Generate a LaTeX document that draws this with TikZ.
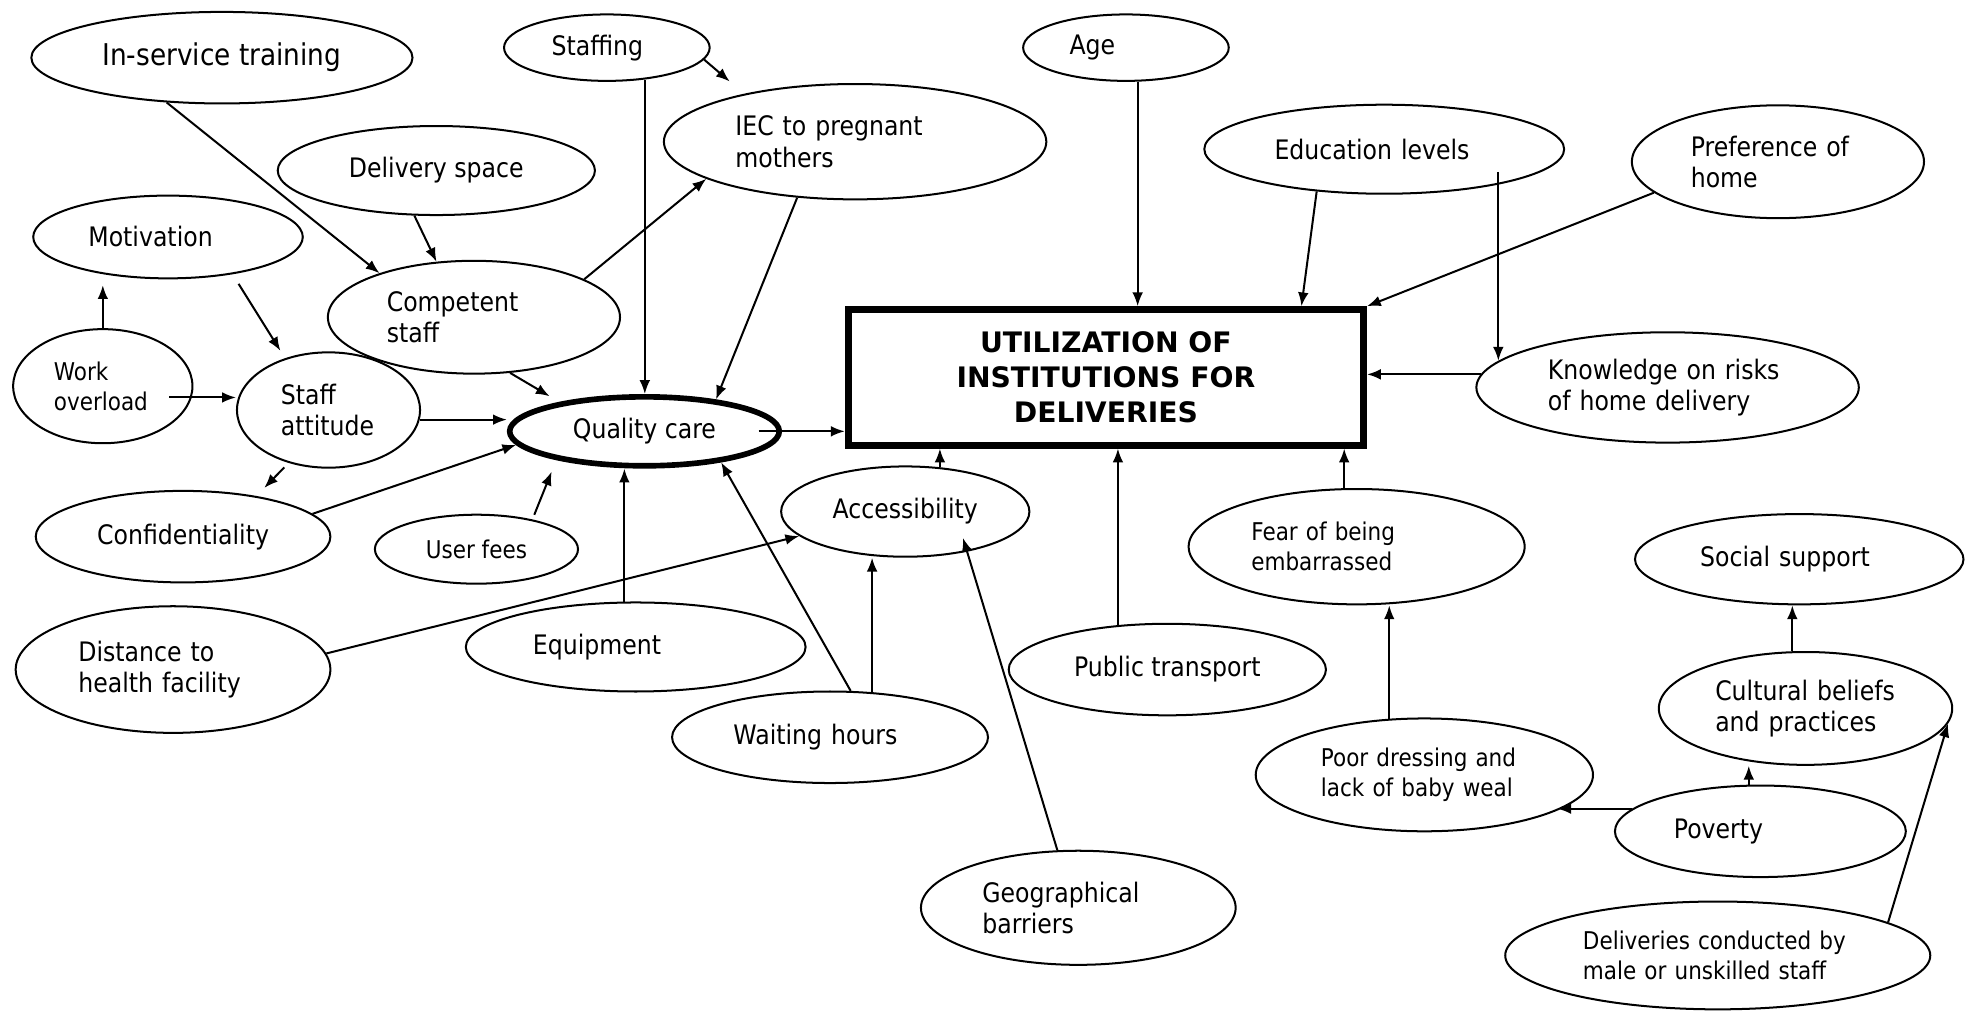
\documentclass[tikz,border=0pt]{standalone}
\usepackage{fontspec}
\setmainfont{DejaVu Sans}[FakeStretch=0.88]
\newfontfamily\headfont{DejaVu Sans}
\usepackage{tikz}
\usetikzlibrary{arrows.meta, shapes.geometric}
\tikzset{
    factor/.style={ellipse, draw, line width=1.6pt, inner sep=0pt, align=left, font=\fontsize{21.4}{25}\selectfont}, % every oval
    smalltext/.style={font=\fontsize{19.5}{24}\selectfont}, % ovals with smaller lettering
    dims/.style 2 args={minimum width=#1pt, minimum height=#2pt}, % size of an oval
}
\tikzstyle{arrow} = [line width=1.6pt, -{Latex[length=11pt, width=8.5pt]}]

\begin{document}
\begin{tikzpicture}[x=1pt, y=-1pt]
    \useasboundingbox (0,0) rectangle (1568,807);

    \node[factor, dims={304}{73}, align=center, font=\fontsize{23.9}{28}\selectfont] (train) at (177,46) {In-service training};
    \node[factor, dims={164}{53}, text width=88pt] (staffing) at (484,38) {Staffing};
    \node[factor, dims={164}{53}, text width=90pt] (age) at (898,38) {Age};
    \node[factor, dims={305}{92}, text width=191pt] (iec) at (682,113) {IEC to pregnant\\mothers};
    \node[factor, dims={287}{71}, text width=175pt] (edu) at (1104,119) {Education levels};
    \node[factor, dims={233}{90}, text width=139pt] (pref) at (1418,129) {Preference of\\home};
    \node[factor, dims={253}{71}, align=center] (space) at (348,136) {Delivery space};
    \node[factor, dims={215}{66}, text width=127pt] (motiv) at (134,189) {Motivation};
    \node[factor, dims={233}{90}, text width=139pt] (comp) at (378,253) {Competent\\staff};
    \node[factor, smalltext, dims={143}{91}, text width=78pt] (work) at (82,308) {Work\\overload};
    \node[factor, dims={146}{92}, text width=76pt] (att) at (262,327) {Staff\\attitude};
    \node[factor, line width=4.5pt, dims={215}{55}, align=center] (qual) at (514,344) {Quality care};
    \node[draw, line width=5.5pt, minimum width=411pt, minimum height=108pt, align=center,
          font=\fontsize{22.5}{28}\selectfont\headfont\bfseries] (util) at (882,301) {UTILIZATION OF\\INSTITUTIONS FOR\\DELIVERIES};
    \node[factor, dims={305}{88}, text width=191pt] (know) at (1330,309) {Knowledge on risks\\of home delivery};
    \node[factor, dims={235}{73}, align=center] (conf) at (146,428) {Confidentiality};
    \node[factor, smalltext, dims={162}{55}, align=center] (fees) at (380,438) {User fees};
    \node[factor, dims={198}{72}, align=center] (acc) at (722,408) {Accessibility};
    \node[factor, smalltext, dims={268}{92}, text width=168pt] (fear) at (1082,436) {Fear of being\\embarrassed};
    \node[factor, dims={262}{72}, text width=158pt] (social) at (1435,446) {Social support};
    \node[factor, dims={251}{101}, text width=151pt] (dist) at (138,534) {Distance to\\health facility};
    \node[factor, dims={271}{71}, text width=164pt] (equip) at (507,516) {Equipment};
    \node[factor, dims={253}{73}, align=center] (bus) at (931,534) {Public transport};
    \node[factor, dims={252}{73}, text width=154pt] (wait) at (662,588) {Waiting hours};
    \node[factor, dims={234}{90}, text width=144pt] (cult) at (1440,565) {Cultural beliefs\\and practices};
    \node[factor, smalltext, dims={269}{90}, text width=165pt] (poor) at (1136,618) {Poor dressing and\\lack of baby weal};
    \node[factor, dims={232}{73}, text width=138pt] (pov) at (1404,663) {Poverty};
    \node[factor, dims={251}{91}, text width=153pt] (geo) at (860,724) {Geographical\\barriers};
    \node[factor, smalltext, dims={339}{86}, text width=215pt] (male) at (1370,762) {Deliveries conducted by\\male or unskilled staff};

    \coordinate (tipiec) at (582,65);
    \coordinate (workin) at (135,317);
    \coordinate (eduin) at (1195,137);
    \coordinate (qualin) at (605,344);
    \coordinate (acctip) at (768,429);

    \path[arrow]
        (train.-141) edge (comp.155)
        (space.-116) edge (comp.124)
        (staffing.-7) edge (tipiec)
        (staffing.-40) edge (staffing.-40 |- qual.north)
        (comp.19) edge (iec.-166)
        (iec.-136) edge (qual.24)
        (work.north) edge[shorten >=9pt] (work.north |- motiv.-151)
        (motiv.-30) edge[shorten <=9pt, shorten >=7pt] (att.130)
        (workin) edge (workin -| att.west)
        (comp.-57) edge[shorten >=9pt] (qual.161)
        (att.-6) edge (att.-6 -| qual.west)
        (att.-127) edge[shorten <=5pt, shorten >=9pt] (conf.29)
        (conf.10) edge (qual.-174)
        (fees.28) edge[shorten <=4pt, shorten >=10pt] (qual.-162)
        (equip.104) edge (equip.104 |- qual.south)
        (wait.66) edge (qual.-22)
        (qualin) edge (qualin -| util.west)
        (age.-71) edge (age.-71 |- util.north)
        (edu.-148) edge (util.20.3)
        (eduin) edge (eduin |- know.171)
        (pref.-166) edge (util.north east)
        (know.176) edge (know.176 -| util.east)
        (dist.6) edge (acc.-167)
        (wait.47) edge (wait.47 |- acc.south)
        (geo.110) edge (acctip)
        (acc.52) edge (acc.52 |- util.south)
        (bus.138) edge (bus.138 |- util.south)
        (fear.102) edge (fear.102 |- util.south)
        (poor.122) edge (poor.122 |- fear.south)
        (pov.170) edge (pov.170 -| poor.-15)
        (pov.104) edge (pov.104 |- cult.south)
        (cult.103) edge (cult.103 |- social.south)
        (male.11) edge (cult.-6);
\end{tikzpicture}
\end{document}
